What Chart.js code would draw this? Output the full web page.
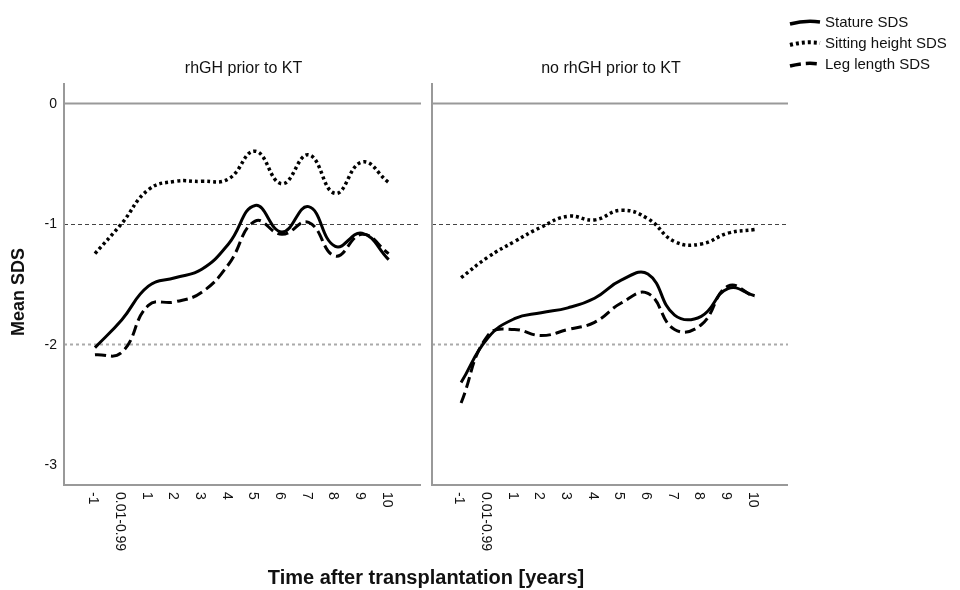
<!DOCTYPE html>
<html>
<head>
<meta charset="utf-8">
<script src="https://cdn.jsdelivr.net/npm/chart.js@4.4.1/dist/chart.umd.min.js"></script>
<style>
  body { margin: 0; background: #fff; }
  #wrap { position: relative; width: 960px; height: 590px; }
  canvas { position: absolute; left: 0; top: 0; }
  #xtitle { position: absolute; left: 0; width: 852px; top: 566px; text-align: center;
            font: bold 20px "Liberation Sans", Arial, sans-serif; color: #111; }
</style>
</head>
<body>
<div id="wrap">
  <canvas id="left" width="960" height="590"></canvas>
  <canvas id="right" width="960" height="590"></canvas>
  <div id="xtitle">Time after transplantation [years]</div>
</div>
<script>
// categories on the x axis
const xLabels = ['-1', '0.01-0.99', '1', '2', '3', '4', '5', '6', '7', '8', '9', '10'];
const yTicks = [0, -1, -2, -3];
const panelTitles = ['rhGH prior to KT', 'no rhGH prior to KT'];
const seriesNames = ['Stature SDS', 'Sitting height SDS', 'Leg length SDS'];

// rhGH prior to KT
const rhghStature = [-2.03, -1.80, -1.52, -1.45, -1.38, -1.17, -0.85, -1.07, -0.86, -1.19, -1.08, -1.30];
const rhghSitting = [-1.25, -1.00, -0.72, -0.65, -0.65, -0.63, -0.40, -0.67, -0.43, -0.75, -0.49, -0.66];
const rhghLeg     = [-2.09, -2.07, -1.68, -1.65, -1.57, -1.34, -0.98, -1.09, -0.99, -1.27, -1.09, -1.25];

// no rhGH prior to KT
const noStature = [-2.32, -1.95, -1.79, -1.74, -1.70, -1.62, -1.47, -1.42, -1.76, -1.77, -1.54, -1.60];
const noSitting = [-1.45, -1.28, -1.15, -1.03, -0.94, -0.97, -0.89, -0.96, -1.15, -1.17, -1.08, -1.05];
const noLeg     = [-2.49, -1.93, -1.88, -1.93, -1.88, -1.82, -1.66, -1.58, -1.88, -1.84, -1.52, -1.61];

const FONT = '"Liberation Sans", Arial, sans-serif';
const lineStyles = [
    { dash: [], width: 3 },
    { dash: [3, 3], width: 3.5 },
    { dash: [11, 5], width: 3 }
];

function toPoints(values) {
    return values.map((v, i) => ({ x: i, y: v }));
}

// draws reference lines, axis lines, tick labels and panel title
const panelPlugin = {
    id: 'panel',
    beforeDatasetsDraw(chart, args, opts) {
        const ctx = chart.ctx;
        const a = chart.chartArea;
        const y = chart.scales.y;
        ctx.save();
        const refs = [
            { v: 0, dash: [], color: '#999', width: 2 },
            { v: -1, dash: [4, 3], color: '#444', width: 1 },
            { v: -2, dash: [3, 3], color: '#aaa', width: 2 }
        ];
        refs.forEach(r => {
            const py = Math.round(y.getPixelForValue(r.v)) + 0.5;
            ctx.beginPath();
            ctx.setLineDash(r.dash);
            ctx.strokeStyle = r.color;
            ctx.lineWidth = r.width;
            ctx.moveTo(a.left, py);
            ctx.lineTo(a.right, py);
            ctx.stroke();
        });
        ctx.setLineDash([]);
        ctx.strokeStyle = '#999';
        ctx.lineWidth = 2;
        ctx.beginPath();
        ctx.moveTo(a.left, a.top);
        ctx.lineTo(a.left, a.bottom);
        ctx.lineTo(a.right, a.bottom);
        ctx.stroke();
        ctx.restore();
    },
    afterDraw(chart, args, opts) {
        const ctx = chart.ctx;
        const a = chart.chartArea;
        const x = chart.scales.x;
        const y = chart.scales.y;
        ctx.save();
        ctx.fillStyle = '#111';
        ctx.font = '14px ' + FONT;
        // x tick labels, rotated clockwise
        xLabels.forEach((lab, i) => {
            const px = x.getPixelForValue(i) - 2;
            ctx.save();
            ctx.translate(px, a.bottom + 7);
            ctx.rotate(Math.PI / 2);
            ctx.textAlign = 'left';
            ctx.textBaseline = 'middle';
            ctx.fillText(lab, 0, 0);
            ctx.restore();
        });
        if (opts.yLabels) {
            ctx.textAlign = 'right';
            ctx.textBaseline = 'middle';
            yTicks.forEach(t => {
                ctx.fillText(String(t), a.left - 7, y.getPixelForValue(t) + 1);
            });
            ctx.save();
            ctx.font = 'bold 18px ' + FONT;
            ctx.translate(19, 292);
            ctx.rotate(-Math.PI / 2);
            ctx.textAlign = 'center';
            ctx.textBaseline = 'middle';
            ctx.fillText('Mean SDS', 0, 0);
            ctx.restore();
        }
        ctx.textAlign = 'center';
        ctx.textBaseline = 'middle';
        ctx.font = '16px ' + FONT;
        ctx.fillText(opts.title, (a.left + a.right) / 2 + 1, 69);
        if (opts.legend) {
            ctx.textAlign = 'left';
            ctx.font = '15px ' + FONT;
            seriesNames.forEach((name, i) => {
                const ly = 23 + i * 21;
                const st = lineStyles[i];
                ctx.save();
                ctx.strokeStyle = '#000';
                ctx.lineWidth = st.width + 0.5;
                ctx.setLineDash(st.dash);
                ctx.beginPath();
                ctx.moveTo(790, ly + 1);
                ctx.quadraticCurveTo(805, ly - 3, 820, ly - 1);
                ctx.stroke();
                ctx.restore();
                ctx.fillText(name, 825, ly);
            });
        }
        ctx.restore();
    }
};

function makePanel(canvasId, seriesList, title, pad, xMin, xMax, yLabels, legend) {
    const ctx = document.getElementById(canvasId).getContext('2d');
    return new Chart(ctx, {
        type: 'line',
        data: {
            datasets: seriesList.map((values, i) => ({
                label: seriesNames[i],
                data: toPoints(values),
                borderColor: '#000',
                borderWidth: lineStyles[i].width,
                borderDash: lineStyles[i].dash,
                borderCapStyle: 'butt',
                pointRadius: 0,
                fill: false,
                tension: 0.45
            }))
        },
        options: {
            responsive: false,
            animation: false,
            events: [],
            layout: { padding: pad },
            scales: {
                x: { type: 'linear', min: xMin, max: xMax, display: false },
                y: { type: 'linear', min: -3.17, max: 0.166, display: false }
            },
            plugins: {
                legend: { display: false },
                tooltip: { enabled: false },
                panel: { title: title, yLabels: yLabels, legend: legend }
            }
        },
        plugins: [panelPlugin]
    });
}

makePanel('left', [rhghStature, rhghSitting, rhghLeg], panelTitles[0],
    { left: 64, right: 539, top: 83, bottom: 105 }, -1.16, 12.21, true, false);
makePanel('right', [noStature, noSitting, noLeg], panelTitles[1],
    { left: 432, right: 172, top: 83, bottom: 105 }, -1.09, 12.25, false, true);
</script>
</body>
</html>
